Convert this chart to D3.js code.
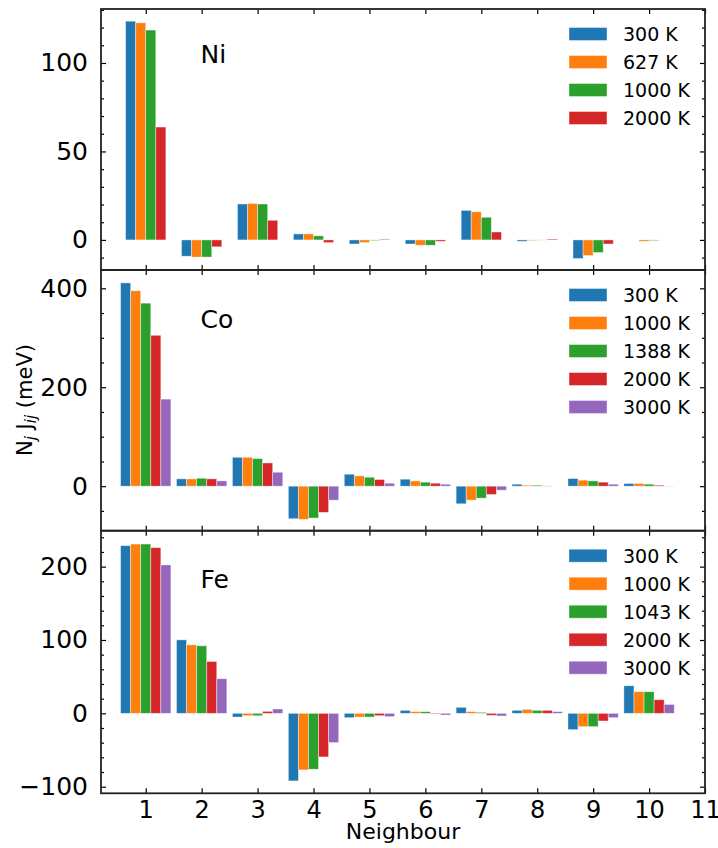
<!DOCTYPE html>
<html>
<head>
<meta charset="utf-8">
<script src="https://cdn.jsdelivr.net/npm/d3@7"></script>
<style>
  html, body { margin: 0; padding: 0; background: #fff; }
  svg { display: block; font-family: "DejaVu Sans", sans-serif; }
</style>
</head>
<body>
<svg id="chart" width="718" height="848"></svg>
<script>
// ---------------- DATA ----------------
const neighbours = [1, 2, 3, 4, 5, 6, 7, 8, 9, 10];
const xTickLabels = [1, 2, 3, 4, 5, 6, 7, 8, 9, 10, 11];

// Ni
const niTemps = ["300 K", "627 K", "1000 K", "2000 K"];
const ni300  = [123.6, -9.2, 20.3, 3.4, -2.3, -2.3, 16.7, -0.8, -10.5, 0.0];
const ni627  = [122.7, -9.7, 20.6, 3.4, -1.5, -3.0, 15.9, -0.4, -8.8, -0.8];
const ni1000 = [118.6, -9.7, 20.3, 2.3, -0.4, -3.0, 12.8, -0.1, -7.1, -0.4];
const ni2000 = [63.8, -3.9, 11.1, -1.5, 0.4, -0.8, 4.5, 0.5, -2.3, 0.0];

// Co
const coTemps = ["300 K", "1000 K", "1388 K", "2000 K", "3000 K"];
const co300  = [411, 14.8, 58.4, -65.8, 24.2, 14.1, -35.6, 4.0, 15.4, 5.4];
const co1000 = [395, 14.8, 58.4, -67.1, 20.8, 10.7, -28.2, 2.0, 12.1, 5.4];
const co1388 = [370, 16.1, 55.7, -64.4, 18.1, 8.1, -24.2, 2.0, 10.7, 4.0];
const co2000 = [305, 14.8, 47.0, -53.0, 13.4, 6.0, -16.8, 0.5, 8.1, 2.0];
const co3000 = [176, 10.7, 28.2, -28.2, 6.0, 4.0, -8.1, 0.0, 4.0, 0.3];

// Fe
const feTemps = ["300 K", "1000 K", "1043 K", "2000 K", "3000 K"];
const fe300  = [228.6, 100.2, -5.0, -92.1, -5.9, 4.1, 8.2, 4.1, -22.2, 37.6];
const fe1000 = [230.8, 93.4, -3.2, -77.1, -5.0, 2.3, 2.3, 5.4, -18.1, 29.5];
const fe1043 = [230.8, 92.1, -3.2, -76.2, -5.0, 2.3, 1.4, 4.1, -18.1, 29.5];
const fe2000 = [225.9, 70.7, 2.7, -59.4, -3.2, -0.9, -2.7, 4.1, -10.4, 18.6];
const fe3000 = [202.3, 47.2, 5.9, -39.9, -4.5, -2.3, -3.6, 2.3, -5.9, 12.2];

// y tick labels per panel
const niYTicks = [0, 50, 100];
const coYTicks = [0, 200, 400];
const feYTicks = [-100, 0, 100, 200];

const colors = ["#1f77b4", "#ff7f0e", "#2ca02c", "#d62728", "#9467bd"];

// ---------------- LAYOUT ----------------
const svg = d3.select("#chart");
svg.append("rect").attr("width", 718).attr("height", 848).attr("fill", "#fff");

const left = 101, right = 705;
const barW = 0.18;
const x = d3.scaleLinear().domain([0.2, 11]).range([left, right]);

const panels = [
  { name: "Ni", top: 9, bottom: 270, domain: [-17, 130.5], temps: niTemps,
    series: [ni300, ni627, ni1000, ni2000], ticks: niYTicks, minorStep: 10, labelDy: 54 },
  { name: "Co", top: 270, bottom: 530.7, domain: [-90, 437], temps: coTemps,
    series: [co300, co1000, co1388, co2000, co3000], ticks: coYTicks, minorStep: 50, labelDy: 58 },
  { name: "Fe", top: 530.7, bottom: 793.3, domain: [-109, 249], temps: feTemps,
    series: [fe300, fe1000, fe1043, fe2000, fe3000], ticks: feYTicks, minorStep: 20, labelDy: 57.5 }
];

const fmt = d => (d < 0 ? "\u2212" + Math.abs(d) : String(d));

panels.forEach((p, pi) => {
  const y = d3.scaleLinear().domain(p.domain).range([p.bottom, p.top]);
  const g = svg.append("g");
  const n = p.series.length;

  // bars
  p.series.forEach((vals, si) => {
    const off = (si - (n - 1) / 2) * barW;
    g.selectAll(null).data(neighbours.map((nb, i) => ({ nb, v: vals[i] })))
      .enter().append("rect")
      .attr("x", d => x(d.nb + off - barW / 2))
      .attr("width", d => x(d.nb + off + barW / 2) - x(d.nb + off - barW / 2))
      .attr("y", d => y(Math.max(0, d.v)))
      .attr("height", d => Math.abs(y(d.v) - y(0)))
      .attr("fill", colors[si])
      .attr("stroke", "#fff").attr("stroke-width", 0.8).attr("stroke-opacity", 0.5);
  });

  // minor ticks (y)
  const [y0, y1] = p.domain;
  const minor = d3.range(Math.ceil(y0 / p.minorStep) * p.minorStep, y1 + 0.001, p.minorStep)
    .filter(v => !p.ticks.includes(v));
  const yMinorL = d3.axisLeft(y).tickValues(minor).tickSize(-3).tickFormat("");
  const yMinorR = d3.axisRight(y).tickValues(minor).tickSize(-3).tickFormat("");
  const yMajorL = d3.axisLeft(y).tickValues(p.ticks).tickSize(-5).tickPadding(8 + 5).tickFormat(fmt);
  const yMajorR = d3.axisRight(y).tickValues(p.ticks).tickSize(-5).tickFormat("");

  const style = sel => {
    sel.select(".domain").remove();
    sel.selectAll(".tick line").attr("stroke", "#000").attr("stroke-width", 1.2);
  };
  g.append("g").attr("transform", `translate(${left},0)`).call(yMinorL).call(style);
  g.append("g").attr("transform", `translate(${right},0)`).call(yMinorR).call(style);
  const yl = g.append("g").attr("transform", `translate(${left},0)`).call(yMajorL).call(style);
  yl.selectAll(".tick text").attr("font-size", 25).attr("fill", "#000")
    .attr("font-family", "DejaVu Sans");
  g.append("g").attr("transform", `translate(${right},0)`).call(yMajorR).call(style);

  // x ticks top/bottom (inward)
  const xb = d3.axisBottom(x).tickValues(xTickLabels).tickSize(-5)
    .tickFormat(pi === panels.length - 1 ? d3.format("d") : "").tickPadding(8);
  const xt = d3.axisTop(x).tickValues(xTickLabels).tickSize(-5).tickFormat("");
  const xbG = g.append("g").attr("transform", `translate(0,${p.bottom})`).call(xb).call(style);
  xbG.selectAll(".tick text").attr("font-size", 24).attr("fill", "#000")
    .attr("font-family", "DejaVu Sans");
  g.append("g").attr("transform", `translate(0,${p.top})`).call(xt).call(style);

  // frame
  g.append("rect").attr("x", left).attr("y", p.top)
    .attr("width", right - left).attr("height", p.bottom - p.top)
    .attr("fill", "none").attr("stroke", "#222").attr("stroke-width", 1.8);

  // element label
  g.append("text").attr("x", x(1.98)).attr("y", p.top + p.labelDy)
    .attr("font-size", 25).attr("fill", "#000").text(p.name);

  // legend
  const lg = g.append("g").attr("transform", `translate(569,${p.top + 25})`);
  p.temps.forEach((t, i) => {
    const row = lg.append("g").attr("transform", `translate(0,${i * 28})`);
    row.append("rect").attr("x", 0).attr("y", -6.5).attr("width", 38).attr("height", 13)
      .attr("fill", colors[i]).attr("stroke", "#fff").attr("stroke-width", 0.8).attr("stroke-opacity", 0.5);
    row.append("text").attr("x", 54).attr("y", 0).attr("dy", "0.36em")
      .attr("font-size", 19).attr("fill", "#000").text(t);
  });
});

// axis labels
svg.append("text").attr("x", 403).attr("y", 839)
  .attr("text-anchor", "middle").attr("font-size", 22).attr("fill", "#000").text("Neighbour");

const yLab = svg.append("text")
  .attr("transform", "translate(32,400) rotate(-90)")
  .attr("text-anchor", "middle").attr("font-size", 21).attr("fill", "#000");
yLab.append("tspan").text("N");
yLab.append("tspan").attr("font-size", 15).attr("font-style", "italic").attr("dy", 4).text("j");
yLab.append("tspan").attr("dy", -4).text(" J");
yLab.append("tspan").attr("font-size", 15).attr("font-style", "italic").attr("dy", 4).text("ij");
yLab.append("tspan").attr("dy", -4).text(" (meV)");
</script>
</body>
</html>
